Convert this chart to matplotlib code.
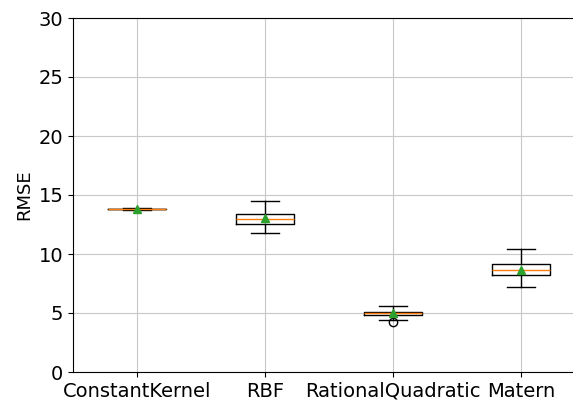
import matplotlib.pyplot as plt

kernels = ['ConstantKernel', 'RBF', 'RationalQuadratic', 'Matern']
q1 = [13.78, 12.55, 4.80, 8.20]
med = [13.81, 12.97, 4.97, 8.64]
q3 = [13.84, 13.39, 5.11, 9.12]
whislo = [13.76, 11.75, 4.43, 7.20]
whishi = [13.86, 14.52, 5.62, 10.42]
means = [13.82, 13.05, 5.02, 8.68]
fliers = [[], [], [4.26], []]

stats = []
for i in range(len(kernels)):
    stats.append({'label': kernels[i], 'q1': q1[i], 'med': med[i], 'q3': q3[i],
                  'whislo': whislo[i], 'whishi': whishi[i], 'mean': means[i],
                  'fliers': fliers[i]})

plt.rcParams['font.size'] = 14
fig = plt.figure(figsize=(5.73, 4.01), dpi=100)
# axes runs past the right edge like in the original crop
ax = fig.add_axes([73/573, 29/401, 512/573, 354/401])
ax.bxp(stats, showmeans=True, widths=0.45)
ax.set_ylim(0, 30)
ax.set_xlim(0.5, 4.5)
ax.set_ylabel('RMSE', fontsize=13)
ax.grid(True, color='#c8c8c8')
ax.set_axisbelow(True)

plt.savefig('out.png', dpi=100)
